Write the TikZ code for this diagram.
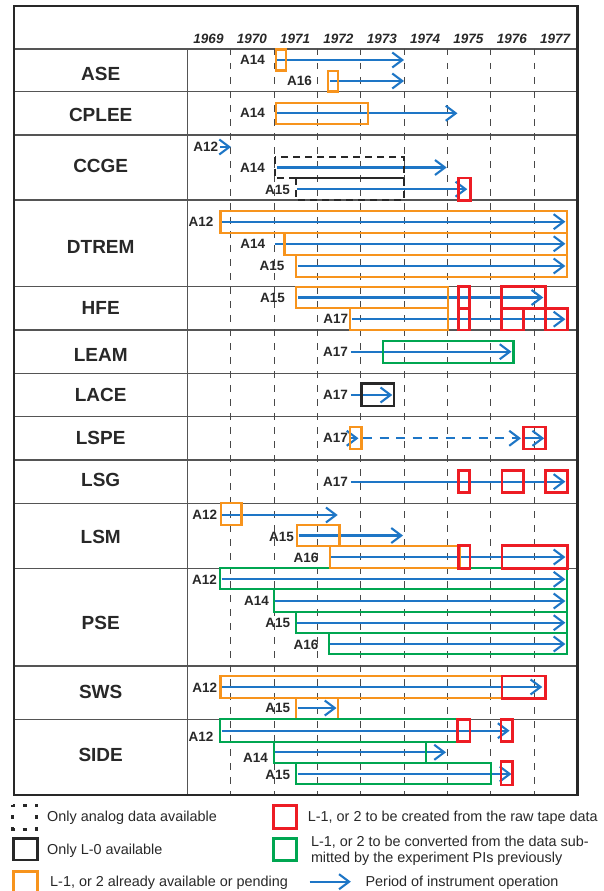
\documentclass[tikz,border=0pt]{standalone}
\usepackage{fontspec}
\setmainfont{Liberation Sans}
\usetikzlibrary{arrows.meta}
\definecolor{opblue}{RGB}{30,118,198}
\definecolor{avorange}{RGB}{247,148,29}
\definecolor{rawred}{RGB}{237,28,36}
\definecolor{convgreen}{RGB}{0,166,81}
\definecolor{gridgray}{RGB}{85,85,85}
\definecolor{inkgray}{RGB}{40,40,40}
\begin{document}
\begin{tikzpicture}[x=1pt,y=-1pt,line join=miter,
  grid/.style={draw=gridgray, line width=1.5pt},
  frame/.style={draw=inkgray, line width=2.4pt},
  yearline/.style={draw=inkgray!85, line width=1.2pt, dash pattern=on 6.5pt off 7.5pt},
  op/.style={draw=opblue, line width=2.1pt, -{Straight Barb[length=10pt,width=15pt]}},
  opdash/.style={op, dash pattern=on 9pt off 7.5pt},
  obox/.style={draw=avorange, line width=2.3pt},
  rbox/.style={draw=rawred, line width=2.9pt},
  gbox/.style={draw=convgreen, line width=2.1pt},
  kbox/.style={draw=inkgray, line width=2.3pt},
  kdbox/.style={draw=inkgray, line width=2.1pt, dash pattern=on 7pt off 5pt},
  inst/.style={font=\bfseries\fontsize{19}{19}\selectfont, text=inkgray, inner sep=0pt},
  mis/.style={font=\bfseries\fontsize{13.5}{13.5}\selectfont, text=inkgray, inner sep=0pt, anchor=east},
  yr/.style={font=\bfseries\itshape\fontsize{13.5}{13.5}\selectfont, text=inkgray, inner sep=0pt},
  leg/.style={font=\fontsize{14.4}{14.4}\selectfont, text=inkgray, inner sep=0pt, anchor=base west}]
\useasboundingbox (0,0) rectangle (603,891);

% ---- table grid ----
\foreach \yy in {49,91.7,135,200,286.7,330,373.3,416.7,460,503.3,568.3,666,719.3}
  \draw[grid] (14,\yy) -- (577.5,\yy);
\draw[grid] (187.5,49) -- (187.5,795);

% year boundaries and year captions
\foreach \k in {1,...,8}
  \draw[yearline] ({187.5+43.33*\k},49) -- ({187.5+43.33*\k},795);
\foreach \yname [count=\k from 0] in {1969,1970,1971,1972,1973,1974,1975,1976,1977}
  \node[yr] (yr\yname) at ({208.5+43.33*\k},39) {\yname};

% instrument names
\node[inst] (ase)   at (100.7,74)    {ASE};
\node[inst] (cplee) at (100.7,114.5) {CPLEE};
\node[inst] (ccge)  at (100.7,166)   {CCGE};
\node[inst] (dtrem) at (100.7,246.5) {DTREM};
\node[inst] (hfe)   at (100.7,308.3) {HFE};
\node[inst] (leam)  at (100.7,354.5) {LEAM};
\node[inst] (lace)  at (100.7,395)   {LACE};
\node[inst] (lspe)  at (100.7,437.5) {LSPE};
\node[inst] (lsg)   at (100.7,479.5) {LSG};
\node[inst] (lsm)   at (100.7,536.5) {LSM};
\node[inst] (pse)   at (100.7,622.5) {PSE};
\node[inst] (sws)   at (100.7,691.5) {SWS};
\node[inst] (side)  at (100.7,755)   {SIDE};

% ---- ASE ----
\node[mis] (ase-a14) at (265,60) {A14};
\draw[op] (276,60) -- (404,60);
\draw[obox] (276,49.5) rectangle (286,70.5);
\node[mis] (ase-a16) at (312,81) {A16};
\draw[op] (330,81) -- (404,81);
\draw[obox] (328,70.7) rectangle (337.7,91.5);

% ---- CPLEE ----
\node[mis] (cplee-a14) at (265,113.3) {A14};
\draw[op] (276,113.3) -- (457.5,113.3);
\draw[obox] (276,102.7) rectangle (368,124.3);

% ---- CCGE ----
\node[mis] (ccge-a12) at (218.3,147) {A12};
\draw[op] (220,147) -- (231,147);
\node[mis] (ccge-a14) at (265,168) {A14};
\draw[op] (277,167.5) -- (446.7,167.5);
\draw[kdbox] (275,156.7) rectangle (404,178.3);
\node[mis] (ccge-a15) at (290,189.5) {A15};
\draw[op] (297,189.2) -- (467.3,189.2);
\draw[kdbox] (296,178.3) rectangle (404,200);
\draw[rbox] (458.3,178) rectangle (470.7,200.3);

% ---- DTREM ----
\node[mis] (dtrem-a12) at (213.5,221.7) {A12};
\draw[op] (222,221.7) -- (565.4,221.7);
\draw[obox] (220.4,210.7) rectangle (567.3,232.7);
\node[mis] (dtrem-a14) at (265.4,243.8) {A14};
\draw[op] (275,243.8) -- (565.4,243.8);
\draw[obox] (284.6,232.7) rectangle (567.3,255);
\node[mis] (dtrem-a15) at (284.6,266) {A15};
\draw[op] (297.5,266) -- (565.4,266);
\draw[obox] (296.2,255) rectangle (567.3,277.3);

% ---- HFE ----
\node[mis] (hfe-a15) at (285,297.7) {A15};
\draw[op] (298,297.5) -- (543.3,297.5);
\draw[obox] (296,286.7) rectangle (448.3,308.3);
\node[mis] (hfe-a17) at (348.3,319.3) {A17};
\draw[op] (352,319.2) -- (565.4,319.2);
\draw[obox] (350,308.3) rectangle (448.3,330);
\draw[rbox] (458.3,286.7) rectangle (469.3,308.3);
\draw[rbox] (458.3,308.3) rectangle (469.3,330);
\draw[rbox] (501.7,286.7) rectangle (545.7,308.3);
\draw[rbox] (501.7,308.3) rectangle (523.3,330);
\draw[rbox] (545.7,308.3) rectangle (567.3,330);

% ---- LEAM ----
\node[mis] (leam-a17) at (348,351.7) {A17};
\draw[op] (350.8,351.7) -- (511.5,351.7);
\draw[gbox] (382.7,341) rectangle (513.5,362.7);

% ---- LACE ----
\node[mis] (lace-a17) at (348,395) {A17};
\draw[op] (350.8,395) -- (392.3,395);
\draw[kbox] (361.5,383.5) rectangle (394.2,405.7);

% ---- LSPE ----
\node[mis] (lspe-a17) at (348,438.3) {A17};
\draw[op] (350.5,438.3) -- (358.5,438.3);
\draw[obox] (350,427) rectangle (361.5,449);
\draw[opdash] (363,438.3) -- (521,438.3);
\draw[op] (524,438.3) -- (544.2,438.3);
\draw[rbox] (523.8,427) rectangle (545.4,449);

% ---- LSG ----
\node[mis] (lsg-a17) at (348,481.7) {A17};
\draw[op] (350.8,481.7) -- (565.4,481.7);
\draw[rbox] (458.5,470.5) rectangle (469.2,492.7);
\draw[rbox] (502,470.5) rectangle (523.8,492.7);
\draw[rbox] (545.4,470.5) rectangle (567.3,492.7);

% ---- PSE ----
\node[mis] (pse-a12) at (217,579.3) {A12};
\draw[op] (221.5,579.3) -- (565.4,579.3);
\draw[gbox] (220.4,568.3) rectangle (567.3,589.3);
\node[mis] (pse-a14) at (269,601) {A14};
\draw[op] (275,601) -- (565.4,601);
\draw[gbox] (274.2,589.3) rectangle (567.3,611.7);
\node[mis] (pse-a15) at (290.4,622.7) {A15};
\draw[op] (297,622.7) -- (565.4,622.7);
\draw[gbox] (296.2,611.7) rectangle (567.3,633.3);
\node[mis] (pse-a16) at (318.5,644.5) {A16};
\draw[op] (330,644) -- (565.4,644);
\draw[gbox] (328.8,633.3) rectangle (567.3,654.3);

% ---- LSM ----
\node[mis] (lsm-a12) at (217.3,515) {A12};
\draw[op] (222,515) -- (337.7,515);
\draw[obox] (221.2,503.3) rectangle (241.5,525);
\node[mis] (lsm-a15) at (294,537.3) {A15};
\draw[op] (298.5,535.5) -- (403,535.5);
\draw[obox] (297.3,525) rectangle (339.6,545.7);
\node[mis] (lsm-a16) at (318.5,558.3) {A16};
\draw[op] (331,557) -- (565.4,557);
\draw[obox] (330,545.7) rectangle (459.6,568.3);
\draw[rbox] (458.8,545.7) rectangle (470,568.3);
\draw[rbox] (502,545.7) rectangle (567.3,568.3);

% ---- SWS ----
\node[mis] (sws-a12) at (217.3,688) {A12};
\draw[op] (221.5,687) -- (542.3,687);
\draw[obox] (220.4,676) rectangle (502,698.3);
\draw[rbox] (502,676) rectangle (545.4,698.3);
\node[mis] (sws-a15) at (290.4,708) {A15};
\draw[op] (297.5,708) -- (336.5,708);
\draw[obox] (296.2,698.3) rectangle (337.7,719.3);

% ---- SIDE ----
\node[mis] (side-a12) at (213.5,736.7) {A12};
\draw[op] (221.5,730.7) -- (509.6,730.7);
\draw[gbox] (220.4,719.3) rectangle (457.7,741.7);
\draw[rbox] (457.7,719.3) rectangle (470,741.7);
\draw[rbox] (501,719.3) rectangle (512.3,741.7);
\node[mis] (side-a14) at (268,758.3) {A14};
\draw[op] (275,752.3) -- (446,752.3);
\draw[gbox] (274.2,741.7) rectangle (426,762.7);
\node[mis] (side-a15) at (290.4,775) {A15};
\draw[op] (297.5,774) -- (511.5,774);
\draw[gbox] (296.2,762.7) rectangle (491,784);
\draw[rbox] (501,761.7) rectangle (512.3,785);

% outer frame
\draw[frame] (14,6) rectangle (577.5,795);

% ---- legend ----
\draw[draw=inkgray, line width=3pt, dash pattern=on 4pt off 8pt, dash phase=2pt]
  (12.5,805) rectangle (36.5,829);
\node[leg] (leg-analog) at (47,821) {Only analog data available};
\draw[kbox, line width=2.8pt] (13.5,838.3) rectangle (37.5,860);
\node[leg] (leg-l0) at (47,854.3) {Only L-0 available};
\draw[obox, line width=2.8pt] (13.5,871.7) rectangle (37.5,895);
\node[leg] (leg-avail) at (50,886) {L-1, or 2 already available or pending};
\draw[rbox, line width=3pt] (273.8,805) rectangle (296.2,828);
\node[leg] (leg-raw) at (307.7,821) {L-1, or 2 to be created from the raw tape data};
\draw[gbox, line width=3pt] (273.8,838.3) rectangle (296.2,860);
\node[leg] (leg-conv1) at (310.8,846) {L-1, or 2 to be converted from the data sub-};
\node[leg] (leg-conv2) at (310.8,862) {mitted by the experiment PIs previously};
\draw[op] (309.6,881.7) -- (350.8,881.7);
\node[leg] (leg-op) at (365.4,886) {Period of instrument operation};
\end{tikzpicture}
\end{document}
